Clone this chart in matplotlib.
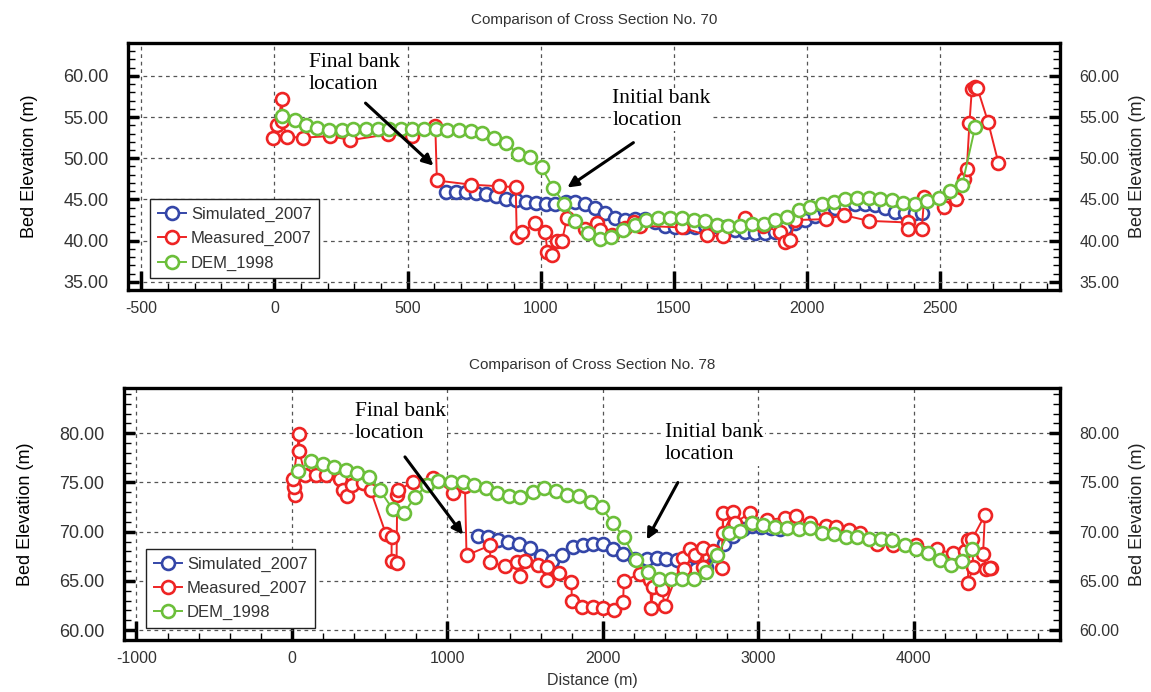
import matplotlib
matplotlib.use("Agg")
import matplotlib.pyplot as plt
from matplotlib.ticker import MultipleLocator, FormatStrFormatter
from matplotlib.patches import Rectangle

plt.rcParams['font.family'] = ['Liberation Sans', 'DejaVu Sans']
plt.rcParams['axes.unicode_minus'] = False

# ---------------- Cross section No. 70 ----------------
sim70_x = [643, 681, 718, 756, 793, 831, 868, 906, 943, 981, 1018, 1055, 1093, 1130,
           1168, 1205, 1243, 1280, 1318, 1355, 1393, 1430, 1468, 1505, 1543, 1580,
           1618, 1655, 1693, 1730, 1768, 1805, 1843, 1880, 1918, 1955, 1993, 2030,
           2068, 2105, 2143, 2180, 2218, 2255, 2293, 2330, 2368, 2405, 2430]
sim70_y = [45.9, 45.9, 45.9, 45.8, 45.6, 45.4, 45.1, 44.9, 44.7, 44.6, 44.5, 44.5, 44.7,
           44.7, 44.4, 44.0, 43.4, 42.8, 42.5, 42.6, 42.6, 42.2, 41.8, 41.7, 41.7, 41.7,
           41.85, 41.8, 41.6, 41.3, 41.1, 40.95, 40.9, 41.1, 41.5, 42.1, 42.5, 43.0,
           43.6, 44.0, 44.3, 44.4, 44.4, 44.3, 43.9, 43.5, 43.35, 43.35, 43.35]

mea70_x = [-5, 8, 30, 28, 48, 108, 210, 285, 425, 517, 604, 610, 737, 843, 906, 910,
           930, 980, 1017, 1025, 1042, 1060, 1080, 1099, 1165, 1212, 1224, 1268, 1315,
           1350, 1374, 1530, 1624, 1684, 1768, 1834, 1899, 1918, 1937, 1955, 2070,
           2137, 2231, 2378, 2381, 2431, 2440, 2515, 2560, 2588, 2600, 2610, 2619,
           2632, 2640, 2680, 2719]
mea70_y = [52.5, 54.0, 57.2, 54.5, 52.6, 52.5, 52.7, 52.2, 52.9, 52.75, 53.9, 47.3,
           46.8, 46.6, 46.5, 40.45, 41.05, 42.1, 41.05, 38.6, 38.3, 40.0, 40.0, 42.8,
           41.4, 42.1, 41.3, 40.7, 41.5, 42.3, 41.8, 41.6, 40.65, 40.5, 42.8, 41.8,
           41.05, 39.85, 40.05, 42.5, 42.6, 43.1, 42.4, 42.2, 41.4, 41.4, 45.3, 44.1,
           45.1, 47.5, 48.7, 54.3, 58.4, 58.6, 58.5, 54.4, 49.4]

dem70_x = [30, 76, 118, 161, 205, 252, 295, 343, 387, 430, 474, 518, 562, 605, 649,
           693, 737, 781, 825, 868, 915, 958, 1003, 1046, 1089, 1130, 1176, 1221, 1264,
           1309, 1353, 1396, 1440, 1486, 1530, 1574, 1618, 1662, 1705, 1749, 1793, 1837,
           1881, 1925, 1969, 2012, 2056, 2100, 2143, 2187, 2231, 2275, 2319, 2362, 2406,
           2450, 2494, 2538, 2582, 2631]
dem70_y = [55.1, 54.6, 54.0, 53.7, 53.4, 53.4, 53.5, 53.55, 53.55, 53.55, 53.55, 53.55,
           53.55, 53.55, 53.4, 53.4, 53.35, 53.1, 52.5, 51.9, 50.5, 50.2, 48.9, 46.4,
           44.5, 42.4, 40.9, 40.25, 40.45, 41.25, 41.9, 42.5, 42.75, 42.75, 42.7, 42.55,
           42.35, 41.95, 41.75, 41.75, 42.0, 42.05, 42.45, 42.9, 43.7, 44.1, 44.4, 44.7,
           45.0, 45.2, 45.2, 45.1, 44.9, 44.6, 44.4, 44.75, 45.15, 46.0, 46.7, 53.75]

# ---------------- Cross section No. 78 ----------------
sim78_x = [1198, 1263, 1327, 1391, 1462, 1530, 1600, 1670, 1740, 1805, 1870, 1935, 2000,
           2066, 2131, 2205, 2281, 2345, 2409, 2474, 2538, 2600, 2660, 2720, 2780, 2840,
           2900, 2960, 3020, 3080, 3140]
sim78_y = [69.6, 69.45, 69.2, 69.0, 68.8, 68.3, 67.5, 67.0, 67.6, 68.4, 68.65, 68.8,
           68.75, 68.2, 67.7, 67.2, 67.2, 67.3, 67.25, 67.1, 66.4, 66.2, 66.4, 67.6,
           68.8, 69.6, 70.3, 70.6, 70.5, 70.4, 70.3]

mea78_x = [19, 13, 9, 47, 47, 84, 154, 218, 309, 330, 352, 384, 455, 506, 604, 641, 641,
           673, 677, 684, 780, 909, 1037, 1113, 1123, 1273, 1277, 1370, 1450, 1470, 1500,
           1580, 1638, 1640, 1720, 1798, 1800, 1865, 1938, 1998, 2070, 2130, 2135, 2236,
           2305, 2310, 2325, 2377, 2399, 2517, 2520, 2560, 2592, 2646, 2646, 2710, 2763,
           2773, 2773, 2838, 2849, 2945, 2962, 3053, 3170, 3245, 3331, 3438, 3502, 3580,
           3656, 3760, 3868, 4017, 4146, 4249, 4328, 4349, 4349, 4381, 4377, 4457, 4445,
           4467, 4499, 4489]
mea78_y = [73.7, 74.5, 75.4, 79.9, 78.2, 75.8, 75.8, 75.8, 75.4, 74.2, 73.6, 74.7, 74.9,
           74.2, 69.8, 69.5, 67.0, 66.8, 73.7, 74.2, 75.1, 75.5, 73.9, 74.6, 67.6, 68.6,
           66.9, 66.5, 66.9, 65.5, 67.0, 66.6, 66.4, 65.1, 65.8, 64.9, 63.0, 62.4, 62.4,
           62.3, 62.0, 62.9, 65.0, 65.7, 65.1, 62.3, 64.4, 64.2, 62.5, 67.3, 66.2, 68.2,
           67.6, 68.3, 66.4, 68.0, 66.3, 71.9, 69.9, 72.0, 70.9, 71.9, 70.9, 71.2, 71.4,
           71.6, 70.9, 70.6, 70.5, 70.2, 69.9, 68.8, 68.7, 68.6, 68.2, 67.8, 68.0, 69.2,
           64.8, 66.4, 69.3, 71.7, 67.7, 66.2, 66.3, 66.3]

dem78_x = [41, 120, 197, 270, 347, 420, 497, 566, 648, 720, 791, 866, 941, 1021, 1098,
           1170, 1248, 1320, 1397, 1470, 1548, 1621, 1698, 1771, 1846, 1921, 1992, 2062,
           2135, 2212, 2292, 2362, 2435, 2510, 2585, 2662, 2737, 2809, 2884, 2959, 3031,
           3110, 3185, 3260, 3335, 3410, 3487, 3563, 3635, 3712, 3787, 3862, 3940, 4015,
           4092, 4167, 4236, 4307, 4377]
dem78_y = [76.2, 77.2, 76.85, 76.6, 76.3, 76.0, 75.6, 74.2, 72.3, 71.9, 73.5, 74.7, 75.2,
           75.1, 75.1, 74.7, 74.4, 73.95, 73.6, 73.55, 74.05, 74.4, 74.15, 73.7, 73.6,
           73.05, 72.5, 70.9, 69.45, 67.15, 65.95, 65.2, 65.2, 65.2, 65.2, 65.95, 67.6,
           69.9, 70.05, 70.9, 70.7, 70.5, 70.35, 70.25, 70.35, 69.9, 69.75, 69.5, 69.45,
           69.3, 69.3, 69.15, 68.7, 68.2, 67.8, 67.1, 66.65, 67.0, 68.25]

BLUE = '#3446a8'
RED = '#ee2424'
GREEN = '#6cbf3a'
W, H = 1151, 692


def px_axes(l, t, r, b):
    return [l / W, 1 - b / H, (r - l) / W, (b - t) / H]


def draw_panel(ax, sim, mea, dem, xlim, ylim, xmaj, xmin):
    kw = dict(marker='o', markersize=9.3, markerfacecolor='white',
              markeredgewidth=1.9, linewidth=1.4)
    ax.plot(sim[0], sim[1], color=BLUE, label='Simulated_2007', **kw)
    ax.plot(mea[0], mea[1], color=RED, label='Measured_2007', **kw)
    ax.plot(dem[0], dem[1], color=GREEN, label='DEM_1998', **kw)
    ax.set_xlim(*xlim)
    ax.set_ylim(*ylim)
    ax.xaxis.set_major_locator(MultipleLocator(xmaj))
    ax.xaxis.set_minor_locator(MultipleLocator(xmin))
    ax.yaxis.set_major_locator(MultipleLocator(5))
    ax.yaxis.set_minor_locator(MultipleLocator(1))
    ax.yaxis.set_major_formatter(FormatStrFormatter('%.2f'))
    ax.grid(True, which='major', color='#555555', linestyle=(0, (3, 3)), linewidth=0.9)
    for s in ax.spines.values():
        s.set_linewidth(2.4)
    ax.tick_params(axis='both', which='both', direction='in', top=False,
                   left=True, right=True, labelleft=True, labelright=True,
                   labelsize=11.5, labelcolor='#333333')
    ax.tick_params(axis='x', which='major', length=14, width=2.5, pad=8)
    ax.tick_params(axis='y', which='major', length=8, width=2.5, pad=14)
    ax.tick_params(axis='both', which='minor', length=5, width=1)
    for tk in ax.yaxis.get_major_ticks():
        tk.label1.set_fontsize(13)
    ax.set_ylabel('Bed Elevation (m)', fontsize=13, labelpad=18)
    leg = ax.legend(loc='lower left', fontsize=12, frameon=True, fancybox=False,
                    framealpha=1, edgecolor='#222222', handlelength=1.7,
                    handletextpad=0.3, borderpad=0.45, labelspacing=0.55,
                    borderaxespad=0, bbox_to_anchor=(22 / 932, 12 / 250))
    leg.get_frame().set_linewidth(1.0)
    for t in leg.get_texts():
        t.set_color('#333333')


fig = plt.figure(figsize=(W / 100, H / 100), dpi=100)

serif = dict(family=['Liberation Serif', 'DejaVu Serif'], fontsize=15.5,
             linespacing=1.2, va='top', ha='left',
             bbox=dict(facecolor='white', edgecolor='none', pad=1))
arrow = dict(arrowstyle='-|>', color='black', lw=2.2, mutation_scale=16,
             shrinkA=0, shrinkB=0)

# top panel
ax1 = fig.add_axes(px_axes(128, 43, 1060, 290))
draw_panel(ax1, (sim70_x, sim70_y), (mea70_x, mea70_y), (dem70_x, dem70_y),
           (-550, 2950), (34, 64), 500, 100)
ax1.set_xlabel('Distance (m)', fontsize=11.5, color='#333333', labelpad=8)
ax1.set_title('Comparison of Cross Section No. 70', fontsize=11, color='#333333', pad=14)
ax1.text(128, 62.8, 'Final bank\nlocation', **serif)
ax1.annotate('', xy=(597, 49.1), xytext=(342, 56.7), arrowprops=arrow)
ax1.text(1269, 58.4, 'Initial bank\nlocation', **serif)
ax1.annotate('', xy=(1100, 46.45), xytext=(1348, 51.9), arrowprops=arrow)

# bottom panel
ax2 = fig.add_axes(px_axes(124, 388, 1060, 640))
draw_panel(ax2, (sim78_x, sim78_y), (mea78_x, mea78_y), (dem78_x, dem78_y),
           (-1080, 4940), (59, 84.6), 1000, 200)
ax2.set_xlabel('Distance (m)', fontsize=11.5, color='#333333', labelpad=5)
ax2.set_title('Comparison of Cross Section No. 78', fontsize=11, color='#333333', pad=14)
ax2.text(405, 83.2, 'Final bank\nlocation', **serif)
ax2.annotate('', xy=(1100, 69.7), xytext=(727, 77.6), arrowprops=arrow)
ax2.text(2399, 81.0, 'Initial bank\nlocation', **serif)
ax2.annotate('', xy=(2283, 69.2), xytext=(2482, 75.0), arrowprops=arrow)

# right-hand axis labels
for yc in (166, 514):
    fig.text(1137 / W, 1 - yc / H, 'Bed Elevation (m)', rotation=90, fontsize=13,
             ha='center', va='center', color='#222222')

# the upper x-axis label is mostly cut off in the original
fig.add_artist(Rectangle((0, 1 - 352 / H), 1, (352 - 327) / H, transform=fig.transFigure,
                         facecolor='white', edgecolor='none', zorder=10))

fig.savefig('out.png', dpi=100)
